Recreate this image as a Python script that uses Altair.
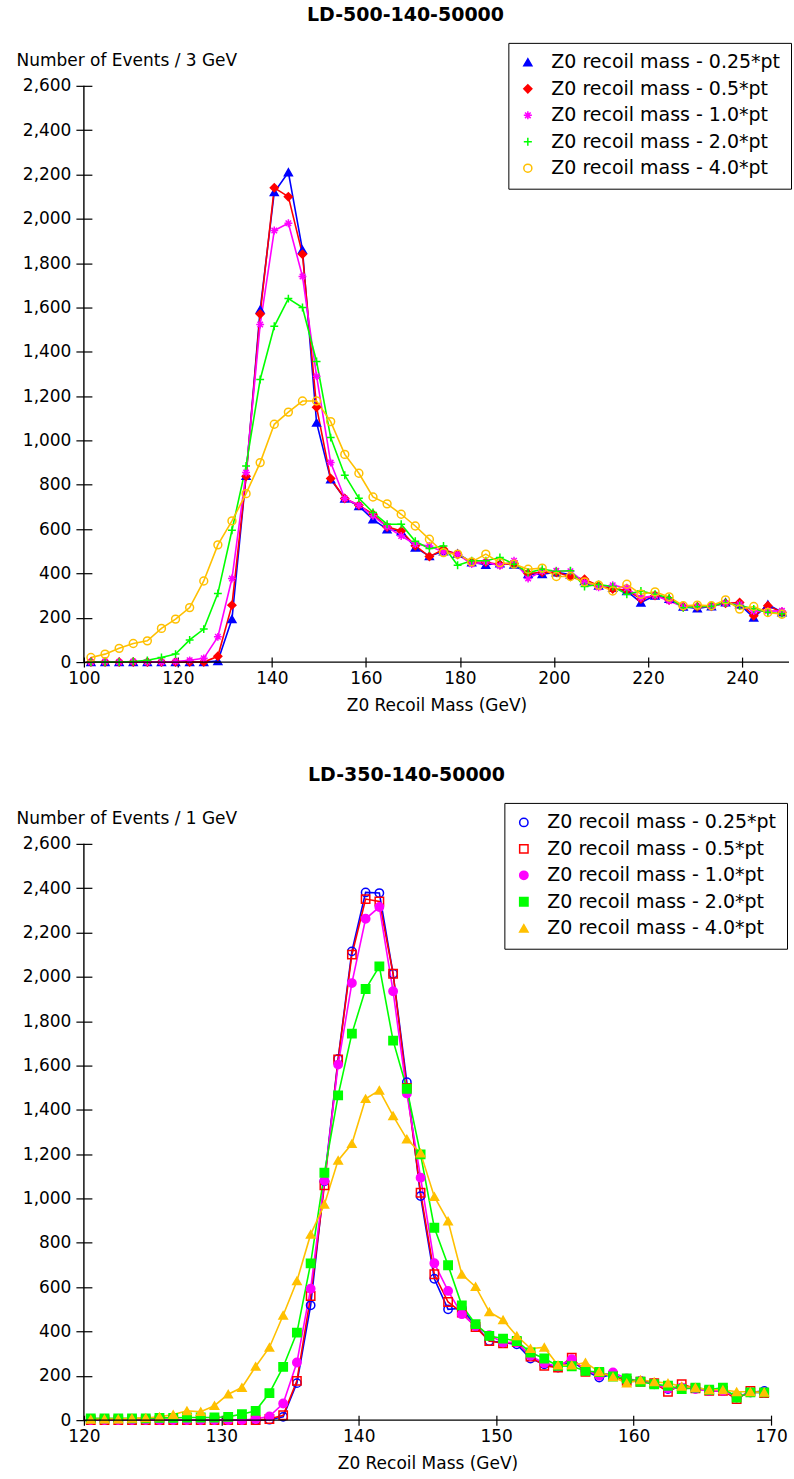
import altair as alt
import pandas as pd

FONT = "DejaVu Sans"

SERIES = [
    "Z0 recoil mass - 0.25*pt",
    "Z0 recoil mass - 0.5*pt",
    "Z0 recoil mass - 1.0*pt",
    "Z0 recoil mass - 2.0*pt",
    "Z0 recoil mass - 4.0*pt",
]
COLORS = ["#0000ff", "#ff0000", "#ff00ff", "#00ff00", "#ffc000"]

# ---------------- top panel: LD-500-140-50000 (3 GeV bins) ----------------
TOP_X = [101.5, 104.5, 107.5, 110.5, 113.5, 116.5, 119.5, 122.5, 125.5, 128.5,
         131.5, 134.5, 137.5, 140.5, 143.5, 146.5, 149.5, 152.5, 155.5, 158.5,
         161.5, 164.5, 167.5, 170.5, 173.5, 176.5, 179.5, 182.5, 185.5, 188.5,
         191.5, 194.5, 197.5, 200.5, 203.5, 206.5, 209.5, 212.5, 215.5, 218.5,
         221.5, 224.5, 227.5, 230.5, 233.5, 236.5, 239.5, 242.5, 245.5, 248.5]
TOP_025 = [0, 0, 0, 0, 0, 0, 0, 0, 0, 5,
           194, 840, 1590, 2120, 2210, 1860, 1080, 825, 738, 704,
           644, 599, 590, 517, 478, 500, 490, 450, 439, 445,
           440, 397, 397, 405, 395, 365, 345, 335, 320, 269,
           300, 285, 250, 242, 252, 270, 260, 201, 260, 225]
TOP_05 = [0, 0, 0, 0, 0, 0, 0, 0, 0, 26,
          257, 838, 1571, 2140, 2100, 1840, 1150, 828, 738, 708,
          667, 610, 592, 525, 476, 509, 485, 450, 450, 440,
          445, 400, 405, 405, 386, 374, 345, 330, 325, 285,
          300, 280, 250, 250, 252, 265, 269, 209, 254, 225]
TOP_10 = [0, 2, 0, 2, 0, 0, 3, 8, 17, 114,
          377, 855, 1523, 1947, 1980, 1740, 1290, 900, 738, 708,
          660, 610, 569, 532, 524, 497, 487, 442, 452, 434,
          457, 377, 410, 412, 410, 360, 337, 347, 333, 290,
          300, 276, 250, 250, 252, 266, 261, 230, 230, 231]
TOP_20 = [0, 0, 0, 3, 8, 21, 36, 100, 149, 310,
          595, 885, 1275, 1515, 1640, 1600, 1356, 1013, 843, 739,
          675, 622, 622, 545, 512, 524, 437, 457, 457, 472,
          442, 404, 419, 410, 412, 341, 350, 341, 306, 321,
          306, 290, 245, 250, 252, 268, 255, 240, 225, 218]
TOP_40 = [21, 36, 62, 84, 96, 152, 194, 246, 366, 529,
          637, 760, 900, 1073, 1128, 1178, 1178, 1085, 937, 852,
          745, 714, 667, 614, 554, 494, 487, 452, 487, 449,
          442, 419, 424, 386, 386, 362, 347, 321, 351, 306,
          317, 294, 254, 257, 254, 281, 239, 251, 224, 216]

# ---------------- bottom panel: LD-350-140-50000 (1 GeV bins) ----------------
BOT_X = [120.5, 121.5, 122.5, 123.5, 124.5, 125.5, 126.5, 127.5, 128.5, 129.5,
         130.5, 131.5, 132.5, 133.5, 134.5, 135.5, 136.5, 137.5, 138.5, 139.5,
         140.5, 141.5, 142.5, 143.5, 144.5, 145.5, 146.5, 147.5, 148.5, 149.5,
         150.5, 151.5, 152.5, 153.5, 154.5, 155.5, 156.5, 157.5, 158.5, 159.5,
         160.5, 161.5, 162.5, 163.5, 164.5, 165.5, 166.5, 167.5, 168.5, 169.5]
BOT_025 = [0, 0, 0, 0, 0, 0, 0, 0, 0, 0,
           0, 0, 0, 2, 15, 167, 518, 1078, 1630, 2115,
           2381, 2378, 2014, 1525, 1011, 638, 500, 505, 425, 357,
           350, 342, 278, 252, 237, 267, 222, 192, 207, 177,
           177, 167, 140, 147, 143, 132, 132, 102, 125, 132]
BOT_05 = [0, 0, 0, 0, 0, 0, 0, 0, 0, 0,
          0, 0, 0, 5, 22, 177, 560, 1059, 1627, 2100,
          2351, 2340, 2014, 1499, 1026, 658, 533, 485, 420, 357,
          347, 352, 287, 245, 237, 282, 218, 212, 200, 177,
          173, 167, 128, 162, 143, 132, 132, 95, 132, 122]
BOT_10 = [0, 0, 0, 0, 0, 0, 0, 0, 0, 0,
          0, 0, 5, 17, 75, 260, 593, 1080, 1604, 1972,
          2262, 2315, 1935, 1474, 1094, 708, 583, 478, 425, 383,
          350, 350, 290, 257, 243, 275, 227, 200, 215, 188,
          177, 162, 143, 147, 140, 132, 132, 105, 125, 125]
BOT_20 = [8, 8, 8, 8, 8, 10, 10, 12, 12, 12,
          15, 27, 42, 122, 240, 395, 707, 1116, 1465, 1744,
          1945, 2047, 1712, 1495, 1199, 868, 699, 518, 433, 380,
          368, 357, 305, 278, 245, 243, 222, 217, 197, 188,
          173, 162, 155, 140, 147, 137, 147, 102, 125, 125]
BOT_40 = [3, 5, 5, 8, 10, 15, 25, 42, 38, 65,
          117, 147, 242, 328, 473, 628, 838, 973, 1172, 1247,
          1450, 1488, 1373, 1268, 1205, 1008, 898, 658, 602, 488,
          452, 380, 323, 328, 248, 248, 260, 218, 195, 167,
          182, 173, 167, 152, 147, 137, 137, 128, 128, 125]

Y_TICKS = [0, 200, 400, 600, 800, 1000, 1200, 1400, 1600, 1800, 2000, 2200, 2400, 2600]
TOP_XTICKS = [100, 120, 140, 160, 180, 200, 220, 240]
BOT_XTICKS = [120, 130, 140, 150, 160, 170]

ASTERISK = "M-1,0L1,0M0,-1L0,1M-0.7,-0.7L0.7,0.7M-0.7,0.7L0.7,-0.7"
PLUS = "M-1,0L1,0M0,-1L0,1"

TOP_SHAPES = ["triangle-up", "diamond", ASTERISK, PLUS, "circle"]
TOP_FILLS = ["#0000ff", "#ff0000", "transparent", "transparent", "transparent"]
BOT_SHAPES = ["circle", "square", "circle", "square", "triangle-up"]
BOT_FILLS = ["transparent", "transparent", "#ff00ff", "#00ff00", "#ffc000"]


def long_df(xs, lists):
    rows = []
    for s, vals in zip(SERIES, lists):
        for x, v in zip(xs, vals):
            rows.append({"mass": x, "events": v, "series": s})
    return pd.DataFrame(rows)


def panel(df, title, title_dx, ytitle, xdom, xticks, width, shapes, fills,
          size, legend):
    xscale = alt.Scale(domain=xdom, nice=False, zero=False)
    yscale = alt.Scale(domain=[0, 2600], nice=False)
    xaxis = alt.Axis(values=xticks, title="Z0 Recoil Mass (GeV)", domain=False,
                     grid=False, tickSize=10, offset=-5, tickColor="black",
                     tickWidth=1.2, labelPadding=3, labelFontSize=17,
                     labelColor="black", titleFontSize=17, titleColor="black",
                     titleFontWeight="normal", titlePadding=11, labelFlush=False)
    yaxis = alt.Axis(values=Y_TICKS, format=",d", title=ytitle, titleAngle=0,
                     titleAlign="left", titleBaseline="alphabetic",
                     titleX=-76, titleY=-20, domain=False, grid=False,
                     tickSize=16, offset=-8, tickColor="black", tickWidth=1.2,
                     labelPadding=5, labelFontSize=17, labelColor="black",
                     titleFontSize=17, titleColor="black",
                     titleFontWeight="normal")
    X = alt.X("mass:Q", scale=xscale, axis=xaxis)
    Y = alt.Y("events:Q", scale=yscale, axis=yaxis)
    stroke_scale = alt.Scale(domain=SERIES, range=COLORS)

    lines = alt.Chart(df).mark_line(strokeWidth=1.6).encode(
        x=X, y=Y,
        stroke=alt.Stroke("series:N", scale=stroke_scale, legend=legend),
    )
    points = alt.Chart(df).mark_point(filled=False, strokeWidth=1.5, opacity=1,
                                      size=size).encode(
        x=X, y=Y,
        stroke=alt.Stroke("series:N", scale=stroke_scale, legend=legend),
        fill=alt.Fill("series:N", scale=alt.Scale(domain=SERIES, range=fills),
                      legend=legend),
        shape=alt.Shape("series:N", scale=alt.Scale(domain=SERIES, range=shapes),
                        legend=legend),
    )
    yline = alt.Chart(pd.DataFrame({"mass": [xdom[0]], "events": [0],
                                    "events2": [2600]})).mark_rule(
        color="black", strokeWidth=1.4).encode(x=X, y=Y, y2="events2:Q")
    xline = alt.Chart(pd.DataFrame({"mass": [xdom[0]], "mass2": [xdom[1]],
                                    "events": [0]})).mark_rule(
        color="black", strokeWidth=1.4).encode(x=X, x2="mass2:Q", y=Y)

    return alt.layer(lines, points, yline, xline).properties(
        width=width, height=577,
        title=alt.TitleParams(text=title, font=FONT, fontSize=19,
                              fontWeight="bold", anchor="middle", dx=title_dx,
                              offset=17, color="black"),
    )


LEG_COMMON = dict(orient="none", title=None, strokeColor="black",
                  fillColor="white", padding=10, labelFont=FONT,
                  labelFontSize=19, labelColor="black", labelLimit=400,
                  symbolStrokeWidth=1.5, rowPadding=6.5, labelOffset=14)

top_legend = alt.Legend(legendX=425, legendY=-43, symbolSize=65, **LEG_COMMON)
bot_legend = alt.Legend(legendX=421, legendY=-41, symbolSize=70, **LEG_COMMON)

top = panel(long_df(TOP_X, [TOP_025, TOP_05, TOP_10, TOP_20, TOP_40]),
            "LD-500-140-50000", -31, "Number of Events / 3 GeV",
            [100, 250], TOP_XTICKS, 706, TOP_SHAPES, TOP_FILLS, 62, top_legend)
bottom = panel(long_df(BOT_X, [BOT_025, BOT_05, BOT_10, BOT_20, BOT_40]),
               "LD-350-140-50000", -21, "Number of Events / 1 GeV",
               [120, 170], BOT_XTICKS, 688, BOT_SHAPES, BOT_FILLS, 70, bot_legend)

chart = alt.vconcat(top, bottom, spacing=53).resolve_scale(
    x="independent", y="independent", stroke="independent",
    fill="independent", shape="independent",
).resolve_legend(
    stroke="independent", fill="independent", shape="independent",
).configure(
    font=FONT, padding={"left": 16, "top": 5, "right": 2, "bottom": 2},
    background="white",
).configure_view(stroke=None)

chart.save("out.html", embed_options={"renderer": "svg", "actions": False})
